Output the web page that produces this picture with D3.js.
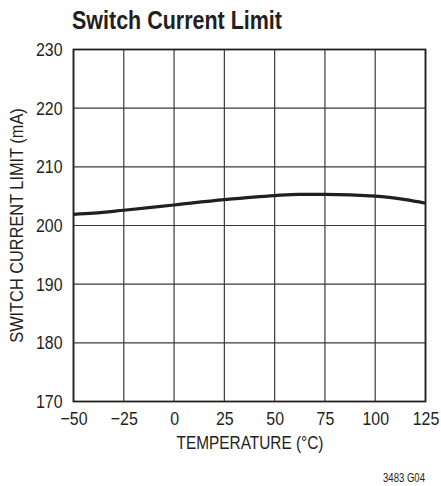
<!DOCTYPE html>
<html><head><meta charset="utf-8">
<script src="https://cdn.jsdelivr.net/npm/d3@7"></script>
<style>
body{margin:0;background:#fff;}
svg text{font-family:"Liberation Sans Narrow","Liberation Sans",Arial,sans-serif;fill:#231f20;}
</style></head>
<body><svg id="c" width="441" height="486"></svg>
<script>
const temps = [-50, -40, -25, 0, 25, 50, 62, 75, 100, 115, 125];
const currents = [201.9, 202.1, 202.6, 203.5, 204.4, 205.1, 205.3, 205.3, 205.0, 204.4, 203.8];
const xTicks = [-50, -25, 0, 25, 50, 75, 100, 125];
const yTicks = [170, 180, 190, 200, 210, 220, 230];

const svg = d3.select("#c");
const L = 73.5, R = 425.5, T = 49.5, B = 401.5;
const x = d3.scaleLinear().domain([-50, 125]).range([L, R]);
const y = d3.scaleLinear().domain([170, 230]).range([B, T]);

function squeeze(sel, f) {
  sel.each(function () {
    const w = this.getComputedTextLength();
    d3.select(this).attr("textLength", w * f).attr("lengthAdjust", "spacingAndGlyphs");
  });
}

const title = svg.append("text").attr("x", 72).attr("y", 29).attr("font-size", 25).attr("font-weight", "bold")
  .text("Switch Current Limit");
squeeze(title, 210 / title.node().getComputedTextLength());

// grid
const g = svg.append("g");
g.selectAll(".vx").data(xTicks).join("line")
  .attr("x1", d => x(d)).attr("x2", d => x(d)).attr("y1", T).attr("y2", B)
  .attr("stroke", "#3a3a3a").attr("stroke-width", 1.2);
g.selectAll(".hy").data(yTicks).join("line")
  .attr("y1", d => y(d)).attr("y2", d => y(d)).attr("x1", L).attr("x2", R)
  .attr("stroke", "#3a3a3a").attr("stroke-width", 1.2);
g.append("rect").attr("x", L).attr("y", T).attr("width", R - L).attr("height", B - T)
  .attr("fill", "none").attr("stroke", "#231f20").attr("stroke-width", 1.8);

const ff = '"Liberation Sans Narrow","Liberation Sans",Arial,sans-serif';
const k = 0.84;
const xa = svg.append("g").attr("transform", `translate(0,${B})`)
  .call(d3.axisBottom(x).tickValues(xTicks).tickSize(0).tickPadding(10)
    .tickFormat(d => d < 0 ? "\u2212" + Math.abs(d) : d));
xa.select(".domain").remove();
xa.selectAll("text").attr("font-size", 19).attr("fill", "#231f20").attr("font-family", ff)
  .attr("transform", `scale(${k},1)`);
const ya = svg.append("g").attr("transform", `translate(${L},0)`)
  .call(d3.axisLeft(y).tickValues(yTicks).tickSize(0).tickPadding(11));
ya.select(".domain").remove();
ya.selectAll("text").attr("font-size", 19).attr("fill", "#231f20").attr("font-family", ff)
  .attr("x", -11 / k).attr("transform", `scale(${k},1)`);

const xt = svg.append("text").attr("x", 250).attr("y", 449).attr("text-anchor", "middle")
  .attr("font-size", 19).text("TEMPERATURE (\u00B0C)");
squeeze(xt, 147 / xt.node().getComputedTextLength());
const yt = svg.append("text").attr("transform", `translate(23,${(T + B) / 2}) rotate(-90)`)
  .attr("text-anchor", "middle").attr("font-size", 19).text("SWITCH CURRENT LIMIT (mA)");
squeeze(yt, 0.86);
const note = svg.append("text").attr("x", 425).attr("y", 482).attr("text-anchor", "end")
  .attr("font-size", 12).text("3483 G04");
squeeze(note, 42 / note.node().getComputedTextLength());

const line = d3.line().x((d, i) => x(temps[i])).y(d => y(d)).curve(d3.curveMonotoneX);
svg.append("path").datum(currents).attr("d", line).attr("fill", "none")
  .attr("stroke", "#231f20").attr("stroke-width", 3.2);
</script></body></html>
